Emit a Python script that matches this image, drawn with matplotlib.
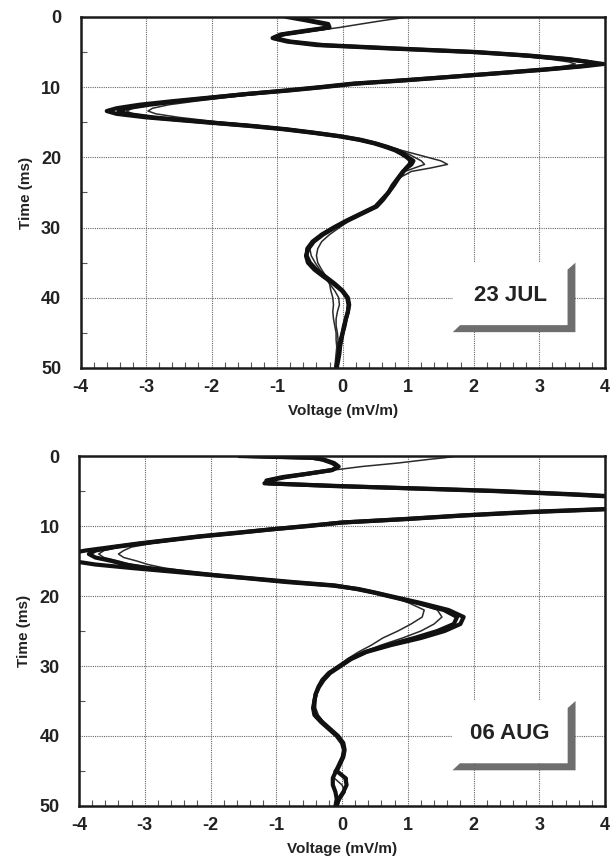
import matplotlib

matplotlib.use("Agg")
import matplotlib.pyplot as plt
from matplotlib.patches import Polygon, Rectangle
from matplotlib.ticker import MultipleLocator

plt.rcParams["font.family"] = ["Liberation Sans", "DejaVu Sans"]
plt.rcParams["font.weight"] = "bold"
plt.rcParams["axes.unicode_minus"] = False

# ---- 23 JUL panel: time samples (ms) and voltage traces (mV/m)
jul_time = [0, 0.5, 1, 1.5, 2, 2.5, 3, 3.5, 4, 4.5,
            5, 5.5, 6, 6.4, 6.7, 7, 7.5, 8, 8.5, 9,
            9.5, 10, 10.5, 11, 11.5, 12, 12.5, 13, 13.4, 13.8,
            14.3, 15, 15.5, 16, 16.5, 17, 17.5, 18, 18.5, 19,
            19.5, 20, 20.5, 21, 21.5, 22, 23, 24, 25, 26,
            27, 28, 29, 30, 31, 32, 33, 34, 35, 36,
            37, 38, 39, 40, 41, 42, 43, 44, 45, 46,
            47, 48, 49, 50]
jul_thick_a = [-0.85, -0.55, -0.28, -0.22, -0.6, -0.95, -1.07, -0.85, -0.4, 0.75,
               2.0, 2.8, 3.4, 3.75, 3.98, 3.7, 3.1, 2.4, 1.7, 1.0,
               0.2, -0.3, -0.85, -1.5, -2.05, -2.6, -3.1, -3.45, -3.6, -3.45,
               -3.0, -2.1, -1.45, -0.9, -0.45, -0.05, 0.25, 0.48, 0.65, 0.8,
               0.9, 0.98, 1.04, 1.02, 0.97, 0.93, 0.85, 0.78, 0.7, 0.62,
               0.52, 0.3, 0.08, -0.12, -0.3, -0.44, -0.52, -0.56, -0.53, -0.43,
               -0.29, -0.14, -0.01, 0.07, 0.09, 0.08, 0.05, 0.03, 0.0, -0.02,
               -0.04, -0.05, -0.07, -0.09]
jul_thick_b = [-0.75, -0.5, -0.22, -0.2, -0.55, -0.92, -1.05, -0.8, -0.3, 0.85,
               2.05, 2.85, 3.45, 3.75, 3.88, 3.65, 3.05, 2.38, 1.68, 0.95,
               0.15, -0.35, -0.9, -1.5, -2.0, -2.5, -2.95, -3.3, -3.42, -3.3,
               -2.9, -2.05, -1.4, -0.85, -0.42, -0.03, 0.28, 0.5, 0.68, 0.83,
               0.93, 1.0, 1.08, 1.05, 0.98, 0.92, 0.84, 0.76, 0.7, 0.6,
               0.5, 0.28, 0.06, -0.14, -0.32, -0.46, -0.54, -0.55, -0.5, -0.4,
               -0.26, -0.12, 0.0, 0.08, 0.1, 0.08, 0.05, 0.02, 0.0, -0.03,
               -0.05, -0.06, -0.08, -0.1]
jul_thin_a = [1.0, 0.62, 0.28, -0.05, -0.45, -0.85, -1.0, -0.8, -0.3, 0.75,
              1.9, 2.6, 3.15, 3.45, 3.55, 3.4, 2.95, 2.35, 1.7, 1.0,
              0.25, -0.25, -0.8, -1.3, -1.8, -2.25, -2.65, -2.9, -2.97, -2.85,
              -2.5, -1.85, -1.25, -0.75, -0.35, 0.0, 0.28, 0.52, 0.72, 0.9,
              1.1, 1.3, 1.5, 1.6, 1.35, 1.05, 0.85, 0.78, 0.68, 0.6,
              0.5, 0.3, 0.1, -0.05, -0.2, -0.32, -0.38, -0.4, -0.38, -0.32,
              -0.25, -0.2, -0.18, -0.15, -0.14, -0.15, -0.14, -0.12, -0.1, -0.1,
              -0.09, -0.1, -0.11, -0.12]
jul_thin_b = [-0.7, -0.45, -0.22, -0.2, -0.5, -0.88, -1.02, -0.78, -0.28, 0.9,
              2.1, 2.9, 3.5, 3.85, 3.95, 3.72, 3.12, 2.42, 1.72, 0.98,
              0.17, -0.33, -0.92, -1.45, -1.95, -2.45, -2.9, -3.2, -3.3, -3.2,
              -2.8, -2.0, -1.35, -0.82, -0.4, -0.02, 0.28, 0.52, 0.72, 0.88,
              1.0, 1.1, 1.2, 1.25, 1.1, 0.95, 0.86, 0.77, 0.68, 0.6,
              0.5, 0.28, 0.05, -0.15, -0.33, -0.45, -0.5, -0.48, -0.42, -0.35,
              -0.28, -0.2, -0.12, -0.06, -0.05, -0.08, -0.1, -0.1, -0.08, -0.07,
              -0.08, -0.09, -0.1, -0.11]

# ---- 06 AUG panel
aug_time = [0, 0.25, 0.5, 1, 1.5, 2, 2.5, 3, 3.5, 3.9,
            4.3, 4.7, 5, 5.5, 6, 6.5, 7, 7.5, 8, 8.5,
            9, 9.5, 10, 10.5, 11, 11.5, 12, 12.5, 13, 13.5,
            14, 14.5, 15, 15.5, 16, 16.5, 17, 17.5, 18, 18.5,
            19, 19.5, 20, 21, 22, 23, 24, 25, 26, 27,
            28, 29, 30, 31, 32, 33, 34, 35, 36, 37,
            38, 39, 40, 41, 42, 43, 44, 45, 46, 47,
            48, 49, 50]
aug_thick_a = [-1.55, -0.45, -0.3, -0.15, -0.06, -0.15, -0.5, -0.85, -1.12, -1.18,
               0.0, 1.3, 2.3, 3.5, 4.5, 5.2, 5.0, 4.3, 2.9, 1.85,
               1.0, 0.0, -0.5, -1.1, -1.65, -2.2, -2.65, -3.1, -3.5, -3.9,
               -4.2, -4.3, -4.1, -3.75, -3.2, -2.6, -2.0, -1.4, -0.85, -0.15,
               0.25, 0.5, 0.73, 1.2, 1.62, 1.85, 1.8, 1.56, 1.2, 0.75,
               0.37, 0.14, -0.02, -0.18, -0.28, -0.35, -0.4, -0.42, -0.44, -0.42,
               -0.32, -0.2, -0.08, 0.0, 0.03, 0.01, -0.04, -0.09, -0.14, -0.14,
               -0.1, -0.08, -0.1]
aug_thick_b = [-1.4, -0.45, -0.28, -0.12, -0.05, -0.15, -0.5, -0.9, -1.15, -1.12,
               -0.1, 1.4, 2.4, 3.6, 4.6, 5.1, 4.9, 4.2, 2.8, 1.8,
               0.95, 0.0, -0.55, -1.1, -1.6, -2.15, -2.6, -3.05, -3.45, -3.75,
               -3.85, -3.75, -3.5, -3.3, -2.95, -2.45, -1.95, -1.35, -0.75, -0.1,
               0.22, 0.48, 0.7, 1.15, 1.55, 1.75, 1.7, 1.45, 1.1, 0.7,
               0.35, 0.12, -0.04, -0.2, -0.3, -0.36, -0.4, -0.42, -0.43, -0.4,
               -0.3, -0.18, -0.06, 0.02, 0.04, 0.02, -0.03, -0.08, 0.05, 0.07,
               0.02, -0.05, -0.08]
aug_thin_a = [1.75, 1.55, 1.3, 0.85, 0.3, -0.12, -0.5, -0.85, -1.05, -1.0,
              -0.05, 1.35, 2.3, 3.5, 4.4, 4.9, 4.8, 4.1, 2.7, 1.75,
              0.9, -0.05, -0.55, -1.05, -1.55, -2.05, -2.5, -2.9, -3.2, -3.32,
              -3.4, -3.32, -3.12, -2.95, -2.7, -2.3, -1.85, -1.3, -0.7, -0.15,
              0.25, 0.5, 0.72, 1.02, 1.25, 1.22, 1.05, 0.85, 0.62, 0.45,
              0.25, 0.08, -0.04, -0.18, -0.28, -0.35, -0.38, -0.4, -0.4, -0.36,
              -0.28, -0.16, -0.05, 0.02, 0.03, 0.0, -0.05, -0.1, 0.08, 0.08,
              0.03, -0.04, -0.06]
aug_thin_b = [-1.45, -0.48, -0.3, -0.14, -0.06, -0.15, -0.55, -0.92, -1.12, -1.1,
              -0.08, 1.35, 2.35, 3.55, 4.55, 5.1, 4.95, 4.2, 2.8, 1.78,
              0.95, -0.02, -0.55, -1.08, -1.6, -2.12, -2.58, -3.0, -3.38, -3.62,
              -3.7, -3.62, -3.4, -3.2, -2.85, -2.4, -1.9, -1.35, -0.72, -0.1,
              0.28, 0.52, 0.72, 1.12, 1.45, 1.52, 1.4, 1.2, 0.92, 0.6,
              0.32, 0.12, -0.03, -0.19, -0.29, -0.36, -0.4, -0.42, -0.42, -0.38,
              -0.29, -0.17, -0.06, 0.02, 0.04, 0.01, -0.04, -0.12, -0.12, 0.0,
              0.05, -0.02, -0.07]

x_ticks = [-4, -3, -2, -1, 0, 1, 2, 3, 4]
y_ticks = [0, 10, 20, 30, 40, 50]


def date_badge(ax, label):
    # white card with a grey bevelled shadow along bottom and right edges
    x0, xi, xo = 0.71, 0.929, 0.944
    yt, yi, yo = 0.300, 0.122, 0.102
    ax.add_patch(Rectangle((x0, yi), xi - x0, yt - yi, transform=ax.transAxes,
                           facecolor="white", edgecolor="none", zorder=3))
    shadow = [(x0, yo), (x0 + 0.014, yi), (xi, yi), (xi, yt - 0.02), (xo, yt), (xo, yo)]
    ax.add_patch(Polygon(shadow, closed=True, transform=ax.transAxes,
                         facecolor="#6e6e6e", edgecolor="none", zorder=4))
    ax.text((x0 + xi) / 2, (yi + yt) / 2 - 0.004, label, transform=ax.transAxes,
            ha="center", va="center", fontsize=16, fontweight="bold", color="#222222", zorder=5)


def draw_panel(ax, time, thick, thin, label):
    for v in thin:
        ax.plot(v, time, color="#2a2a2a", linewidth=1.1, zorder=2)
    for v in thick:
        ax.plot(v, time, color="#111111", linewidth=3.0, zorder=2)
    ax.set_xlim(-4, 4)
    ax.set_ylim(50, 0)
    ax.set_xticks(x_ticks)
    ax.set_yticks(y_ticks)
    ax.xaxis.set_minor_locator(MultipleLocator(0.2))
    ax.yaxis.set_minor_locator(MultipleLocator(5))
    ax.tick_params(which="major", length=0, labelsize=13, colors="#222222")
    ax.tick_params(axis="x", which="major", pad=8)
    ax.tick_params(axis="y", which="major", pad=14)
    ax.tick_params(which="minor", direction="in", length=4, width=0.8, color="#555555")
    ax.grid(which="major", color="#666666", linestyle=(0, (1, 1)), linewidth=0.8)
    ax.set_axisbelow(True)
    for spine in ax.spines.values():
        spine.set_linewidth(1.8)
        spine.set_color("#1a1a1a")
    ax.set_xlabel("Voltage (mV/m)", fontsize=11, fontweight="bold", color="#222222", labelpad=6)
    ax.set_ylabel("Time (ms)", fontsize=11, fontweight="bold", color="#222222", labelpad=6)
    date_badge(ax, label)


fig = plt.figure(figsize=(6.11, 8.66), dpi=100)
ax_top = fig.add_axes([0.1318, 0.5751, 0.858, 0.4053])
ax_bot = fig.add_axes([0.1293, 0.0693, 0.8609, 0.4041])

draw_panel(ax_top, jul_time, [jul_thick_a, jul_thick_b], [jul_thin_a, jul_thin_b], "23 JUL")
draw_panel(ax_bot, aug_time, [aug_thick_a, aug_thick_b], [aug_thin_a, aug_thin_b], "06 AUG")

fig.savefig("out.png", dpi=100)
plt.close(fig)
